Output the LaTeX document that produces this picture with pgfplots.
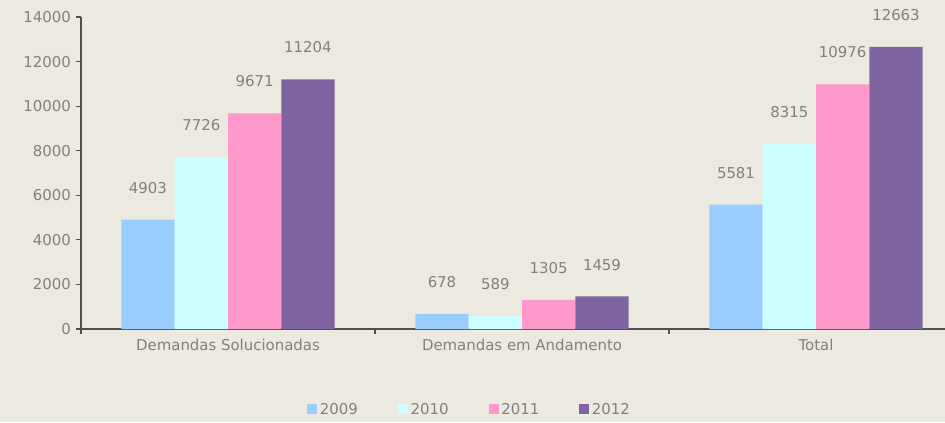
\documentclass[border=0pt]{standalone}
\usepackage{pgfplots}
\pgfplotsset{compat=1.18}
\usepackage{fontspec}
\setmainfont{DejaVu Sans}
\definecolor{bg}{RGB}{236,234,224}
\definecolor{c09}{RGB}{153,204,255}
\definecolor{c10}{RGB}{204,255,255}
\definecolor{c11}{RGB}{255,153,204}
\definecolor{c12}{RGB}{128,100,162}
\definecolor{txt}{RGB}{128,128,128}
\definecolor{axc}{RGB}{80,80,80}
\begin{document}
\begin{tikzpicture}[x=1pt,y=1pt,font=\fontsize{11.2pt}{13pt}\selectfont]
\path[use as bounding box, fill=bg] (-60.75,-69.75) rectangle (648,246.75);
\begin{axis}[
  at={(0,0)}, anchor=south west,
  scale only axis, width=661.5pt, height=234pt,
  ymin=0, ymax=14000, ytick={0,2000,...,14000},
  scaled y ticks=false,
  xmin=-0.5, xmax=2.5,
  xtick={-0.5,0.5,1.5,2.5},
  x tick label as interval,
  xticklabels={Demandas Solucionadas, Demandas em Andamento, Total, {}},
  axis x line=bottom, axis y line=left,
  axis line style={-, draw=axc, line width=0.8pt},
  tick style={draw=axc, line width=0.8pt},
  tick align=outside, major tick length=4pt,
  tick label style={color=txt, font=\fontsize{11.2pt}{13pt}\selectfont},
  /pgf/number format/assume math mode=true,
  /pgf/number format/1000 sep={},
  ybar=0pt, bar width=40pt,
  nodes near coords,
  every node near coord/.append style={color=txt, anchor=south, inner sep=0pt, yshift=19.5pt, font=\fontsize{11.2pt}{13pt}\selectfont},
  legend columns=4,
  legend style={at={(0.441,-0.26)}, anchor=center, draw=none, fill=none,
    text=txt, font=\fontsize{11.2pt}{13pt}\selectfont,
    /tikz/every even column/.append style={column sep=28pt}},
  legend image code/.code={\fill[#1] (0pt,-3.2pt) rectangle (7.5pt,4.3pt);},
]
\addplot[fill=c09, draw=none] coordinates {(0,4903) (1,678) (2,5581)};
\addplot[fill=c10, draw=none] coordinates {(0,7726) (1,589) (2,8315)};
\addplot[fill=c11, draw=none] coordinates {(0,9671) (1,1305) (2,10976)};
\addplot[fill=c12, draw=none] coordinates {(0,11204) (1,1459) (2,12663)};
\legend{2009,2010,2011,2012}
\end{axis}
\end{tikzpicture}
\end{document}
